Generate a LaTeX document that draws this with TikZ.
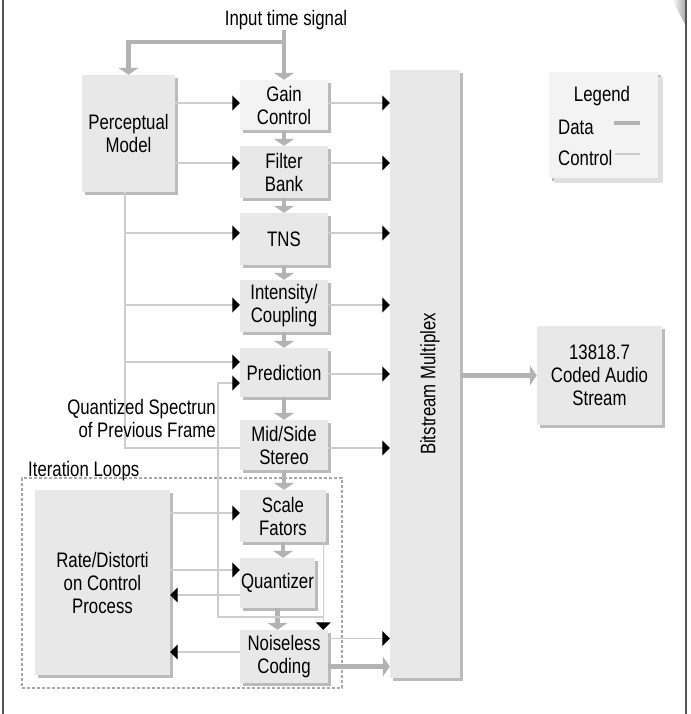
\documentclass[tikz,border=0pt]{standalone}
\usepackage{fontspec}
\setmainfont{Liberation Sans}[FakeStretch=0.8]
\usetikzlibrary{arrows.meta,shadows,calc}
\definecolor{boxfill}{HTML}{E8E8E8}
\definecolor{boxlight}{HTML}{F3F3F3}
\definecolor{boxshadow}{HTML}{BBBBBB}
\definecolor{dataline}{HTML}{B3B3B3}
\definecolor{ctrlline}{HTML}{CDCDCD}
\definecolor{frameline}{HTML}{555555}
\definecolor{loopline}{HTML}{AAAAAA}
\begin{document}
\begin{tikzpicture}[x=1pt,y=-1pt,
  font=\fontsize{21}{23}\selectfont,
  blk/.style={fill=boxfill, draw=none, inner sep=0pt, align=center,
    drop shadow={shadow xshift=3pt, shadow yshift=-3pt, fill=boxshadow, opacity=1}},
  data/.style={draw=dataline, line width=4.5pt, -{Triangle[width=20pt,length=7pt]}},
  dline/.style={draw=dataline, line width=4.5pt},
  ctrl/.style={draw=ctrlline, line width=1.3pt},
  carrow/.style={ctrl, -{Triangle[width=15pt,length=7.5pt,color=black]}},
  lbl/.style={inner sep=0pt, align=center}
]
\useasboundingbox (0,0) rectangle (690,714);
% frame
\shade[left color=white, right color=gray!70] (672,0) -- (686,0) -- (686,26) -- cycle;
\draw[frameline, line width=1.2pt] (3,0) -- (3,714);
\draw[frameline, line width=1.2pt] (686,0) -- (686,714);

% iteration loop frame
\node[draw=loopline, line width=1.3pt, dash pattern=on 3pt off 2pt,
  minimum width=320pt, minimum height=210pt, inner sep=0pt] (iter) at (182,583) {};
\node[lbl, anchor=base west] (itl) at (28,476) {Iteration Loops};

% blocks
\node[blk, minimum width=93pt, minimum height=117pt] (pm) at (128.5,133.5) {Perceptual\\Model};
\node[blk, fill=boxlight, minimum width=88pt, minimum height=50pt] (gc) at (284,105) {Gain\\Control};
\node[blk, minimum width=88pt, minimum height=52pt] (fb) at (284,172) {Filter\\Bank};
\node[blk, minimum width=88pt, minimum height=52pt] (tns) at (284,239) {TNS};
\node[blk, minimum width=88pt, minimum height=52pt] (ic) at (284,306) {Intensity/\\Coupling};
\node[blk, minimum width=88pt, minimum height=49pt] (pr) at (284,372.5) {Prediction};
\node[blk, minimum width=88pt, minimum height=50pt] (ms) at (284,445) {Mid/Side\\Stereo};
\node[blk, minimum width=86pt, minimum height=52pt] (sf) at (283,516) {Scale\\Fators};
\node[blk, minimum width=75pt, minimum height=50pt] (qu) at (277.5,583) {Quantizer};
\node[blk, minimum width=88pt, minimum height=53pt] (nc) at (284,656.5) {Noiseless\\Coding};
\node[blk, minimum width=135pt, minimum height=185pt] (rd) at (102.5,582.5) {Rate/Distorti\\on Control\\Process};
\node[blk, minimum width=70pt, minimum height=608pt] (bm) at (425,374) {};
\node[lbl, rotate=90] (bmt) at (430,384) {Bitstream Multiplex};
\node[blk, minimum width=125pt, minimum height=99pt] (cas) at (599.5,375.5) {13818.7\\Coded Audio\\Stream};

% legend
\node[blk, fill=boxlight, minimum width=109pt, minimum height=106pt,
  drop shadow={shadow xshift=5pt, shadow yshift=-5pt, fill=gray!25, opacity=1}] (leg) at (603.5,125) {};
\node[lbl] (legt) at (602,96) {Legend};
\node[lbl, anchor=west] (ldata) at (558,127) {Data};
\node[lbl, anchor=west] (lctrl) at (558,158) {Control};
\draw[dline, line width=4pt] (614,123) -- (640,123);
\draw[ctrl] (615,154) -- (640,154);

% input
\node[lbl] (inp) at (286,20) {Input time signal};
\coordinate (br) at (284,42);
\draw[data] (gc.north |- inp.south) -- (gc.north);
\draw[data] (br) -| (pm.north);

% data chain
\draw[data] (gc.south) -- (fb.north);
\draw[data] (fb.south) -- (tns.north);
\draw[data] (tns.south) -- (ic.north);
\draw[data] (ic.south) -- (pr.north);
\draw[data] (pr.south) -- (ms.north);
\draw[data] (ms.south) -- (ms.south |- sf.north);
\draw[data] (sf.south) -- (sf.south |- qu.north);
\draw[data] (qu.south) -- (qu.south |- nc.north);
\coordinate (ncD) at ([yshift=-10pt]nc.east);
\draw[data] (ncD) -- (ncD -| bm.west);
\draw[data] (bm.east |- cas.west) -- (cas.west);

% control anchor points
\coordinate (gcL) at ([yshift=2pt]gc.west);
\coordinate (fbL) at ([yshift=9pt]fb.west);
\coordinate (tnsL) at ([yshift=6pt]tns.west);
\coordinate (icL) at ([yshift=1pt]ic.west);
\coordinate (prL1) at ([yshift=10.5pt]pr.west);
\coordinate (prL2) at ([yshift=-10.5pt]pr.west);
\coordinate (msL) at ([yshift=-3pt]ms.west);
\coordinate (sfL) at ([yshift=3pt]sf.west);
\coordinate (quL1) at ([yshift=13pt]qu.west);
\coordinate (quL2) at ([yshift=-12pt]qu.west);
\coordinate (ncL) at ([yshift=4.5pt]nc.west);

\coordinate (gcR) at ([yshift=2pt]gc.east);
\coordinate (fbR) at ([yshift=9pt]fb.east);
\coordinate (tnsR) at ([yshift=6pt]tns.east);
\coordinate (icR) at ([yshift=1pt]ic.east);
\coordinate (prR) at ([yshift=-1.5pt]pr.east);
\coordinate (msR) at ([yshift=-3pt]ms.east);
\coordinate (ncR) at ([yshift=18pt]nc.east);

% perceptual model controls
\coordinate (pmv) at ([xshift=-3.5pt]pm.south);
\draw[carrow] (pm.east |- gcL) -- (gcL);
\draw[carrow] (pm.east |- fbL) -- (fbL);
\draw[ctrl] (pmv) |- (msL);
\draw[carrow] (pmv |- tnsL) -- (tnsL);
\draw[carrow] (pmv |- icL) -- (icL);
\draw[carrow] (pmv |- prL1) -- (prL1);

% controls into bitstream multiplex
\draw[carrow] (gcR) -- (gcR -| bm.west);
\draw[carrow] (fbR) -- (fbR -| bm.west);
\draw[carrow] (tnsR) -- (tnsR -| bm.west);
\draw[carrow] (icR) -- (icR -| bm.west);
\draw[carrow] (prR) -- (prR -| bm.west);
\draw[carrow] (msR) -- (msR -| bm.west);
\draw[carrow] (ncR) -- (ncR -| bm.west);

% quantized spectrum feedback
\coordinate (vl) at ([xshift=-3pt]sf.south east);
\coordinate (qsp) at (218,617);
\draw[carrow] (vl |- qsp) -- (qsp) |- (prL2);
\draw[carrow] (vl) -- (vl |- nc.north);
\node[lbl, anchor=east, align=right] (qst) at (216,418) {Quantized Spectrun\\of Previous Frame};

% rate/distortion controls
\draw[carrow] (rd.east |- sfL) -- (sfL);
\draw[carrow] (rd.east |- quL1) -- (quL1);
\draw[carrow] (quL2) -- (rd.east |- quL2);
\draw[carrow] (ncL) -- (rd.east |- ncL);
\end{tikzpicture}
\end{document}
